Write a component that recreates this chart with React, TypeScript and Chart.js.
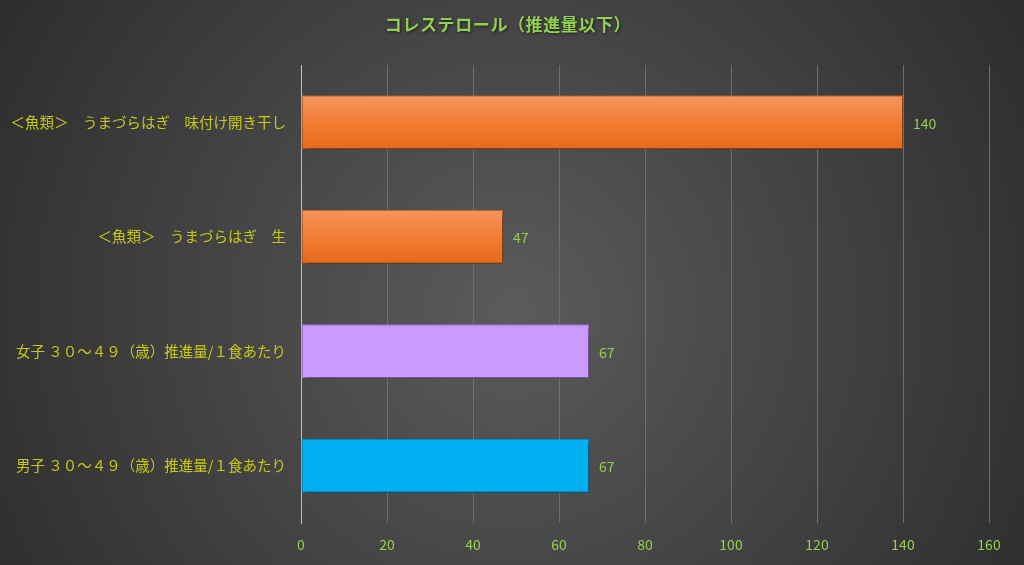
import React, { useEffect, useRef } from "react";
import { Chart, registerables } from "chart.js";

Chart.register(...registerables);

const titleText = "コレステロール（推進量以下）";
const categories = [
  "＜魚類＞　うまづらはぎ　味付け開き干し",
  "＜魚類＞　うまづらはぎ　生",
  "女子 ３０～４９（歳）推進量/１食あたり",
  "男子 ３０～４９（歳）推進量/１食あたり",
];
const values = [140, 47, 67, 67];
const xTicks = [0, 20, 40, 60, 80, 100, 120, 140, 160];

const FONT = "'Noto Sans CJK JP', 'Noto Sans', sans-serif";

export default function App() {
  const ref = useRef<HTMLCanvasElement>(null);
  useEffect(() => {
    document.body.style.margin = "0";
    const canvas = ref.current!;
    const bgPlugin = {
      id: "bg",
      beforeDraw(chart: any) {
        const { ctx, width, height } = chart;
        ctx.save();
        const g = ctx.createRadialGradient(width / 2, height * 0.55, 0, width / 2, height * 0.55, width * 0.62);
        g.addColorStop(0, "#5b5b5b");
        g.addColorStop(1, "#2a2a2a");
        ctx.fillStyle = g;
        ctx.fillRect(0, 0, width, height);
        ctx.font = `bold 17px ${FONT}`;
        (ctx as any).letterSpacing = "0.6px";
        ctx.fillStyle = "#92d050";
        ctx.textAlign = "center";
        ctx.textBaseline = "middle";
        ctx.shadowColor = "rgba(0,0,0,0.6)";
        ctx.shadowBlur = 3;
        ctx.shadowOffsetX = 1;
        ctx.shadowOffsetY = 1;
        ctx.fillText(titleText, 508, 25);
        ctx.restore();
      },
      beforeDatasetsDraw(chart: any) {
        const ctx = chart.ctx;
        ctx.save();
        ctx.shadowColor = "rgba(0,0,0,0.55)";
        ctx.shadowBlur = 6;
        ctx.shadowOffsetX = 2;
        ctx.shadowOffsetY = 3;
      },
      afterDatasetsDraw(chart: any) {
        chart.ctx.restore();
      },
      afterDraw(chart: any) {
        const ctx = chart.ctx;
        const meta = chart.getDatasetMeta(0);
        ctx.save();
        ctx.font = `14px ${FONT}`;
        ctx.fillStyle = "#92d050";
        ctx.textAlign = "left";
        ctx.textBaseline = "middle";
        meta.data.forEach((el: any, i: number) => {
          ctx.fillText(String(values[i]), el.x + 10, el.y + 1);
        });
        ctx.restore();
      },
    };

    const chart = new Chart(canvas, {
      type: "bar",
      data: {
        labels: categories,
        datasets: [
          {
            data: values,
            backgroundColor: (c: any) => {
              const i = c.dataIndex;
              if (i === 2) return "#cc99ff";
              if (i === 3) return "#00b0f0";
              const chart = c.chart;
              const ys = chart.scales && chart.scales.y;
              if (!ys || !chart.chartArea) return "#f07a2a";
              const yc = ys.getPixelForValue(i);
              const g = chart.ctx.createLinearGradient(0, yc - 27, 0, yc + 27);
              g.addColorStop(0, "#f5955e");
              g.addColorStop(0.5, "#f27d33");
              g.addColorStop(1, "#e8691b");
              return g;
            },
            borderColor: ["#c8621e", "#c8621e", "#b27fe6", "#0099d6"],
            borderWidth: 1,
            borderSkipped: false,
            barPercentage: 0.47,
            categoryPercentage: 1,
          },
        ],
      },
      options: {
        indexAxis: "y",
        responsive: false,
        animation: false,
        layout: { padding: { top: 65, right: 35, left: 0, bottom: 0 } },
        plugins: {
          legend: { display: false },
          title: { display: false },
          tooltip: { enabled: false },
        },
        scales: {
          x: {
            min: 0,
            max: 160,
            afterBuildTicks: (s: any) => {
              s.ticks = xTicks.map((v) => ({ value: v }));
            },
            afterFit: (s: any) => {
              s.height = 42;
            },
            grid: { color: "#6e6e6e", lineWidth: 1, drawTicks: false },
            border: { display: false },
            ticks: {
              color: "#92d050",
              font: { family: FONT, size: 14 },
              padding: 13,
            },
          },
          y: {
            afterFit: (s: any) => {
              s.width = 301;
            },
            grid: { display: false, drawTicks: false },
            border: { display: true, color: "#bfbfbf", width: 1 },
            ticks: {
              color: "#c8c81a",
              font: { family: FONT, size: 14.5 },
              padding: 15,
            },
          },
        },
      },
      plugins: [bgPlugin],
    } as any);
    return () => chart.destroy();
  }, []);
  return (
    <div style={{ width: 1024, height: 565 }}>
      <canvas ref={ref} width={1024} height={565} style={{ display: "block" }} />
    </div>
  );
}
